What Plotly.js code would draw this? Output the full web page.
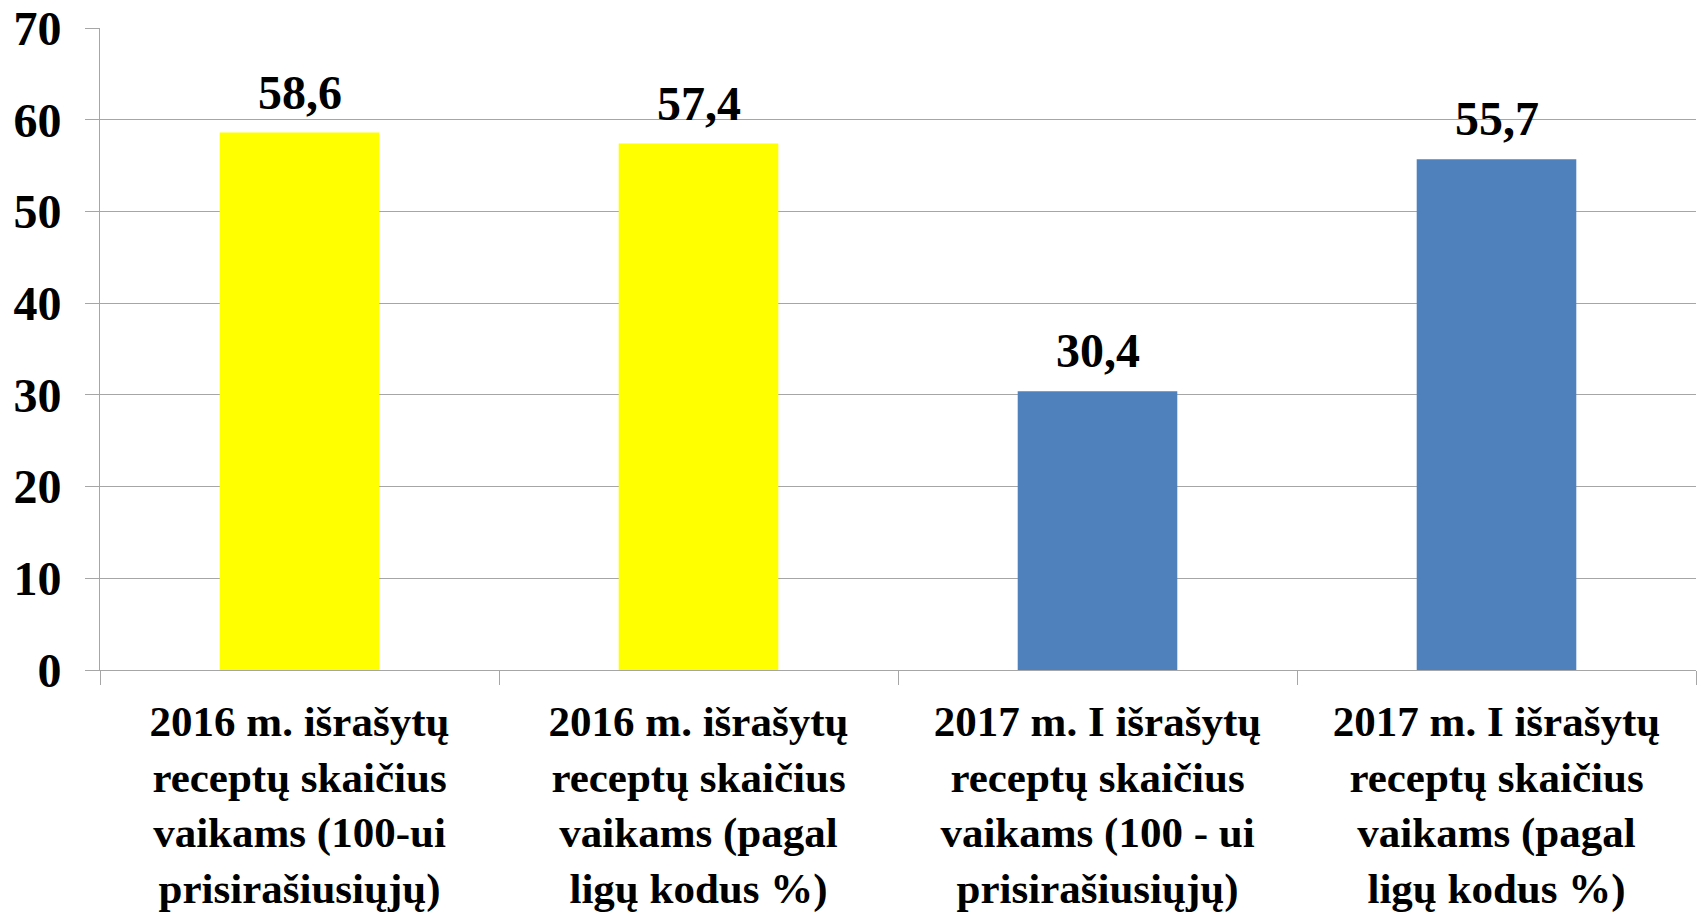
<!DOCTYPE html>
<html>
<head>
<meta charset="utf-8">
<script src="https://cdn.plot.ly/plotly-3.0.1.min.js"></script>
<style>
  html, body { margin: 0; padding: 0; background: #ffffff; }
  #chart { width: 1702px; height: 920px; }
</style>
</head>
<body>
<div id="chart"></div>
<script>
// Categories (x tick labels, line-broken as in the reference)
const categories = [
  "2016 m. išrašytų<br>receptų skaičius<br>vaikams (100-ui<br>prisirašiusiųjų)",
  "2016 m. išrašytų<br>receptų skaičius<br>vaikams (pagal<br>ligų kodus %)",
  "2017 m. I išrašytų<br>receptų skaičius<br>vaikams (100 - ui<br>prisirašiusiųjų)",
  "2017 m. I išrašytų<br>receptų skaičius<br>vaikams (pagal<br>ligų kodus %)"
];
// Bar values
const values = [58.6, 57.4, 30.4, 55.7];
// Value labels as printed on the chart
const valueLabels = ["58,6", "57,4", "30,4", "55,7"];
// Bar colours
const barColors = ["#FFFF00", "#FFFF00", "#4F81BD", "#4F81BD"];
// Y axis ticks
const yTicks = [0, 10, 20, 30, 40, 50, 60, 70];

const serif = "'Liberation Serif', 'Times New Roman', serif";
const gridGray = "#A6A6A6";

const trace = {
  type: "bar",
  x: categories,
  y: values,
  marker: { color: barColors, line: { width: 0 } },
  hoverinfo: "skip"
};

const annotations = categories.map((c, i) => ({
  x: c,
  y: values[i],
  xref: "x",
  yref: "y",
  text: valueLabels[i],
  showarrow: false,
  xanchor: "center",
  yanchor: "bottom",
  yshift: 12,
  font: { family: serif, size: 48, color: "#000000", weight: "bold" }
}));

const layout = {
  width: 1702,
  height: 920,
  margin: { l: 100, r: 6, t: 28, b: 250 },
  paper_bgcolor: "#ffffff",
  plot_bgcolor: "#ffffff",
  showlegend: false,
  bargap: 0.6,
  annotations: annotations,
  xaxis: {
    type: "category",
    tickangle: 0,
    tickson: "boundaries",
    ticks: "outside",
    ticklen: 14,
    tickwidth: 1,
    tickcolor: gridGray,
    showline: true,
    linecolor: gridGray,
    linewidth: 1,
    showgrid: false,
    zeroline: false,
    ticklabelstandoff: 13,
    tickfont: { family: serif, size: 43, color: "#000000", weight: "bold" },
    automargin: false
  },
  yaxis: {
    range: [0, 70],
    tickvals: yTicks,
    ticktext: yTicks.map(String),
    ticks: "outside",
    ticklen: 14,
    tickwidth: 1,
    tickcolor: gridGray,
    showline: true,
    linecolor: gridGray,
    linewidth: 1,
    showgrid: true,
    gridcolor: gridGray,
    gridwidth: 1,
    zeroline: false,
    ticklabelstandoff: 14,
    tickfont: { family: serif, size: 48, color: "#000000", weight: "bold" },
    automargin: false
  }
};

Plotly.newPlot("chart", [trace], layout, { displayModeBar: false, staticPlot: true });
</script>
</body>
</html>
